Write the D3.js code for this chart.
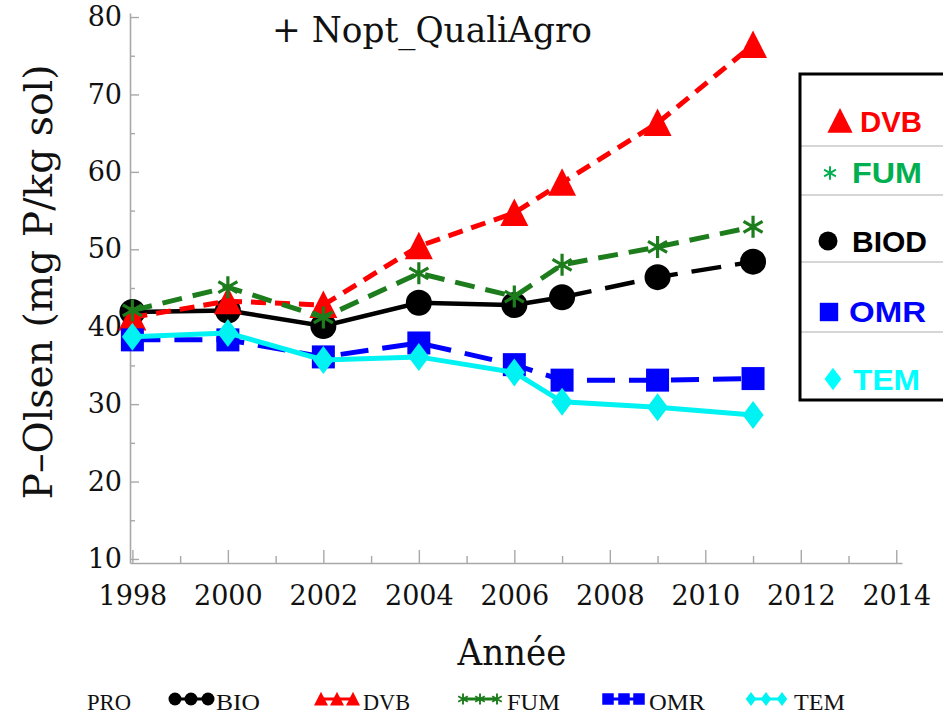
<!DOCTYPE html>
<html>
<head>
<meta charset="utf-8">
<script src="https://cdn.jsdelivr.net/npm/d3@7"></script>
<style>
  html, body { margin: 0; padding: 0; background: #fff; }
  svg { display: block; }
</style>
</head>
<body>
<svg id="chart" width="943" height="716"></svg>
<script>
// Sampling years and P-Olsen values (mg P/kg sol) per organic amendment
const years = [1998, 2000, 2002, 2004, 2006, 2007, 2009, 2011];
const bioValues = [41.9, 42.1, 40.1, 43.1, 42.8, 43.8, 46.4, 48.4];
const dvbValues = [41.2, 43.3, 42.8, 50.4, 54.7, 58.6, 66.3, 76.4];
const fumValues = [42.1, 45.1, 41.2, 46.9, 43.9, 48.0, 50.3, 52.9];
const omrValues = [38.3, 38.3, 36.1, 37.9, 35.1, 33.1, 33.1, 33.3];
const temValues = [38.7, 39.2, 35.7, 36.1, 34.1, 30.3, 29.6, 28.6];

// Axis ticks
const xTickValues = [1998, 2000, 2002, 2004, 2006, 2008, 2010, 2012, 2014];
const xMinorTicks = [1999, 2001, 2003, 2005, 2007, 2009, 2011, 2013];
const yTickValues = [10, 20, 30, 40, 50, 60, 70, 80];
const yMinorTicks = [15, 25, 35, 45, 55, 65, 75];

// Text
const titleText = "+ Nopt_QualiAgro";
const xAxisTitle = "Année";
const yAxisTitle = "P–Olsen (mg P/kg sol)";
const legendTitle = "PRO";
const bottomLegendLabels = ["BIO", "DVB", "FUM", "OMR", "TEM"];
const boxLegendLabels = ["DVB", "FUM", "BIOD", "OMR", "TEM"];

const svg = d3.select("#chart");
const serif = "DejaVu Serif";
const axisColor = "#a8a8a8";

const x = d3.scaleLinear().domain([1997.95, 2014.12]).range([130, 902]);
const y = d3.scaleLinear().domain([9.48, 80.52]).range([563, 13]);

// ---- Axes (ticks point into the plot) ----
const gx = svg.append("g").attr("transform", `translate(0,${y.range()[0]})`)
  .call(d3.axisBottom(x).tickValues(xTickValues).tickSize(-13).tickSizeOuter(0).tickFormat(d3.format("d")));
gx.attr("font-family", serif).attr("font-size", 27);
gx.select(".domain").attr("stroke", axisColor).attr("stroke-width", 1.6);
gx.selectAll(".tick line").attr("stroke", axisColor).attr("stroke-width", 1.4);
gx.selectAll(".tick text").attr("y", 42).attr("dy", 0).attr("fill", "#111");

const gxMinor = svg.append("g").attr("transform", `translate(0,${y.range()[0]})`)
  .call(d3.axisBottom(x).tickValues(xMinorTicks).tickSize(-7).tickFormat(""));
gxMinor.select(".domain").remove();
gxMinor.selectAll(".tick line").attr("stroke", axisColor).attr("stroke-width", 1.4);

const gy = svg.append("g").attr("transform", `translate(${x.range()[0]},0)`)
  .call(d3.axisLeft(y).tickValues(yTickValues).tickSize(-9).tickSizeOuter(0).tickPadding(8));
gy.attr("font-family", serif).attr("font-size", 27);
gy.select(".domain").attr("stroke", axisColor).attr("stroke-width", 1.6);
gy.selectAll(".tick line").attr("stroke", axisColor).attr("stroke-width", 1.4);
gy.selectAll(".tick text").attr("fill", "#111");

const gyMinor = svg.append("g").attr("transform", `translate(${x.range()[0]},0)`)
  .call(d3.axisLeft(y).tickValues(yMinorTicks).tickSize(-5).tickFormat(""));
gyMinor.select(".domain").remove();
gyMinor.selectAll(".tick line").attr("stroke", axisColor).attr("stroke-width", 1.4);

// ---- Titles ----
svg.append("text").attr("x", 272).attr("y", 42)
  .attr("font-family", serif).attr("font-size", 36).attr("fill", "#111")
  .attr("textLength", 320).attr("lengthAdjust", "spacingAndGlyphs")
  .text(titleText);

svg.append("text").attr("x", 512).attr("y", 665).attr("text-anchor", "middle")
  .attr("font-family", serif).attr("font-size", 37).attr("fill", "#111")
  .attr("textLength", 109).attr("lengthAdjust", "spacingAndGlyphs")
  .text(xAxisTitle);

svg.append("text").attr("transform", "translate(52,282) rotate(-90)")
  .attr("text-anchor", "middle")
  .attr("font-family", serif).attr("font-size", 39).attr("fill", "#111")
  .attr("textLength", 435).attr("lengthAdjust", "spacingAndGlyphs")
  .text(yAxisTitle);

// ---- Marker shapes ----
function drawMarker(g, kind, cx, cy, color, s) {
  s = s || 1;
  if (kind === "circle") {
    g.append("circle").attr("cx", cx).attr("cy", cy).attr("r", 13 * s).attr("fill", color);
  } else if (kind === "triangle") {
    g.append("path").attr("d",
      `M${cx},${cy - 14.5 * s}L${cx + 14 * s},${cy + 13 * s}L${cx - 14 * s},${cy + 13 * s}Z`)
      .attr("fill", color);
  } else if (kind === "square") {
    g.append("rect").attr("x", cx - 11.5 * s).attr("y", cy - 11.5 * s)
      .attr("width", 23 * s).attr("height", 23 * s).attr("fill", color);
  } else if (kind === "diamond") {
    g.append("path").attr("d",
      `M${cx},${cy - 14 * s}L${cx + 10.5 * s},${cy}L${cx},${cy + 14 * s}L${cx - 10.5 * s},${cy}Z`)
      .attr("fill", color);
  } else if (kind === "asterisk") {
    const r = 11 * s;
    const p = d3.path();
    [90, 30, -30].forEach(a => {
      const t = a * Math.PI / 180;
      p.moveTo(cx - r * Math.cos(t), cy - r * Math.sin(t));
      p.lineTo(cx + r * Math.cos(t), cy + r * Math.sin(t));
    });
    g.append("path").attr("d", p.toString()).attr("stroke", color)
      .attr("stroke-width", 3.2 * Math.max(s, 0.6)).attr("fill", "none");
  }
}

const series = [
  { values: bioValues, color: "#000000", marker: "circle",   width: 4.5, dash: null, dashFrom: 5, dashTail: "30,14" },
  { values: dvbValues, color: "#ff0000", marker: "triangle", width: 5,   dash: "15,9" },
  { values: fumValues, color: "#1d7d1d", marker: "asterisk", width: 5,   dash: "20,11" },
  { values: omrValues, color: "#0000ff", marker: "square",   width: 5,   dash: "28,14" },
  { values: temValues, color: "#00f2f2", marker: "diamond",  width: 5,   dash: null }
];

const line = d3.line().x(d => x(d.yr)).y(d => y(d.v));

series.forEach(s => {
  const pts = years.map((yr, i) => ({ yr, v: s.values[i] }));
  const g = svg.append("g");
  if (s.dashFrom !== undefined) {
    g.append("path").attr("d", line(pts.slice(0, s.dashFrom + 1)))
      .attr("fill", "none").attr("stroke", s.color).attr("stroke-width", s.width);
    g.append("path").attr("d", line(pts.slice(s.dashFrom)))
      .attr("fill", "none").attr("stroke", s.color).attr("stroke-width", s.width)
      .attr("stroke-dasharray", s.dashTail);
  } else {
    g.append("path").attr("d", line(pts))
      .attr("fill", "none").attr("stroke", s.color).attr("stroke-width", s.width)
      .attr("stroke-dasharray", s.dash);
  }
  pts.forEach(d => drawMarker(g, s.marker, x(d.yr), y(d.v), s.color));
});

// ---- Legend box on the right ----
const box = svg.append("g");
const boxLeft = 800, boxTop = 74, boxBottom = 400;
const boxColors = ["#ff0000", "#00b050", "#000000", "#0000ff", "#00ffff"];
const boxMarkers = ["triangle", "asterisk", "circle", "square", "diamond"];
const boxBaselines = [132, 183, 252, 322, 390];
const boxTextX = [860, 852, 852, 849, 853];
const boxTextW = [62, 70, 75, 77, 67];
const boxMarkerPos = [[840, 121], [830, 173], [828, 241], [829, 312], [833, 379]];
const boxMarkerScale = [0.9, 0.62, 0.73, 0.8, 0.8];
[146, 195, 262, 332].forEach(yy => {
  box.append("line").attr("x1", boxLeft).attr("x2", 943).attr("y1", yy).attr("y2", yy)
    .attr("stroke", "#d6d6d6").attr("stroke-width", 2);
});
box.append("rect").attr("x", boxLeft).attr("y", boxTop)
  .attr("width", 200).attr("height", boxBottom - boxTop)
  .attr("fill", "none").attr("stroke", "#000").attr("stroke-width", 3);
boxLegendLabels.forEach((lab, i) => {
  drawMarker(box, boxMarkers[i], boxMarkerPos[i][0], boxMarkerPos[i][1], boxColors[i], boxMarkerScale[i]);
  box.append("text").attr("x", boxTextX[i]).attr("y", boxBaselines[i])
    .attr("font-family", "Liberation Sans").attr("font-weight", "bold").attr("font-size", 30)
    .attr("fill", boxColors[i])
    .attr("textLength", boxTextW[i]).attr("lengthAdjust", "spacingAndGlyphs")
    .text(lab);
});

// ---- Bottom legend ----
const leg = svg.append("g");
const legBase = 710, legMid = 699;
leg.append("text").attr("x", 87).attr("y", legBase)
  .attr("font-family", "Liberation Serif").attr("font-size", 24).attr("fill", "#111")
  .attr("textLength", 44).attr("lengthAdjust", "spacingAndGlyphs").text(legendTitle);
const legSymX = [[175, 191, 208], [321, 337, 353], [463, 480, 497], [608, 624, 639], [751, 766, 782]];
const legTextX = [216, 363, 507, 649, 794];
const legTextW = [44, 47, 53, 56, 51];
series.forEach((s, i) => {
  const xs = legSymX[i];
  leg.append("line").attr("x1", xs[0]).attr("x2", xs[2]).attr("y1", legMid).attr("y2", legMid)
    .attr("stroke", s.color).attr("stroke-width", 3);
  xs.forEach(cx => drawMarker(leg, s.marker, cx, legMid, s.color, 0.5));
  leg.append("text").attr("x", legTextX[i]).attr("y", legBase)
    .attr("font-family", "Liberation Serif").attr("font-size", 24).attr("fill", "#111")
    .attr("textLength", legTextW[i]).attr("lengthAdjust", "spacingAndGlyphs")
    .text(bottomLegendLabels[i]);
});
</script>
</body>
</html>
